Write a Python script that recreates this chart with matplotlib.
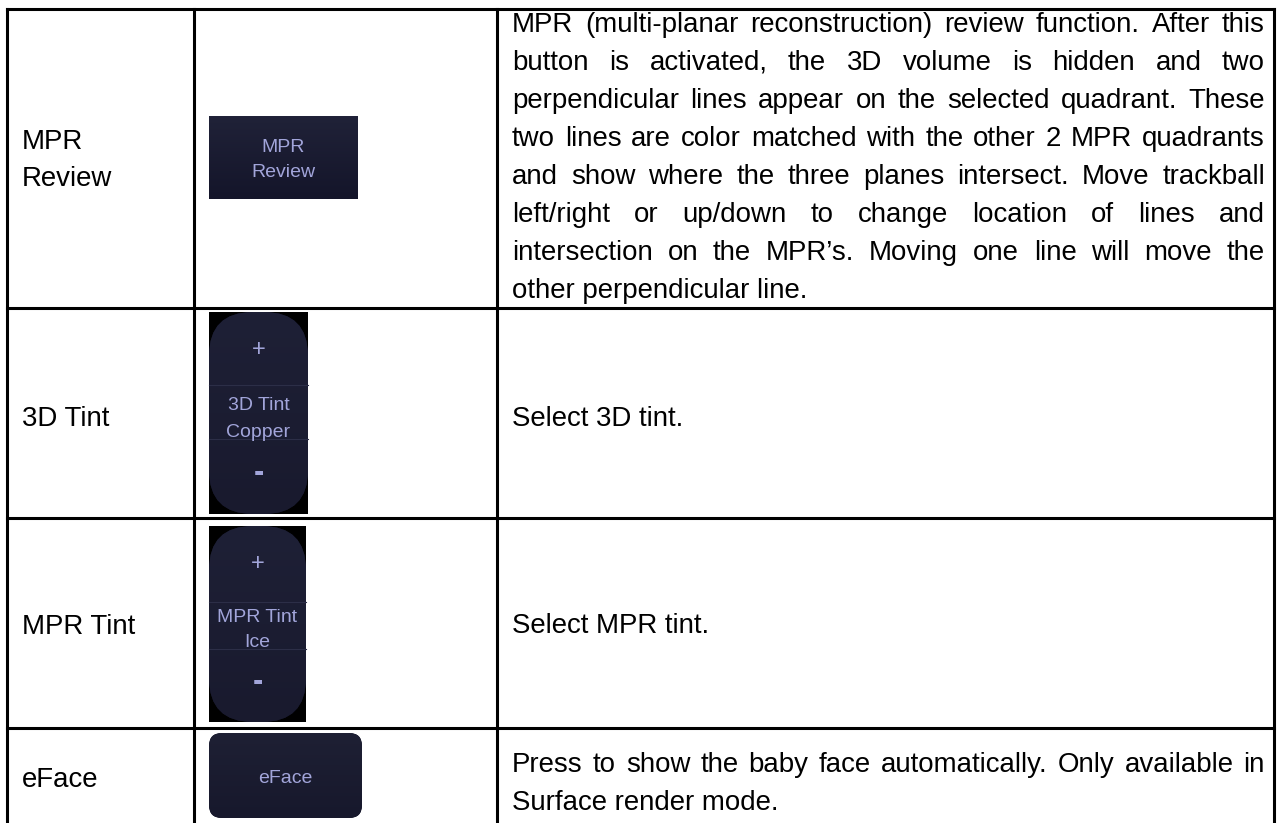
"""
Ultrasound 3D/4D control table: function name | touch button | description.
Rebuilt with plain matplotlib patches and text on a pixel-sized axes.
"""

import numpy as np
import matplotlib
matplotlib.use("Agg")
import matplotlib.pyplot as plt
from matplotlib.patches import FancyBboxPatch, Rectangle

W, H = 1277, 823
FAMILY = ["Liberation Sans", "DejaVu Sans"]

# ── table content ───────────────────────────────────────────────
ROW_LABELS = [["MPR", "Review"], ["3D Tint"], ["MPR Tint"], ["eFace"]]

DESCRIPTIONS = [
    ["MPR (multi-planar reconstruction) review function. After this",
     "button is activated, the 3D volume is hidden and two",
     "perpendicular lines appear on the selected quadrant. These",
     "two lines are color matched with the other 2 MPR quadrants",
     "and show where the three planes intersect. Move trackball",
     "left/right or up/down to change location of lines and",
     "intersection on the MPR\u2019s. Moving one line will move the",
     "other perpendicular line."],
    ["Select 3D tint."],
    ["Select MPR tint."],
    ["Press to show the baby face automatically. Only available in",
     "Surface render mode."],
]

BUTTON_TEXT = [["MPR", "Review"], ["3D Tint", "Copper"], ["MPR Tint", "Ice"], ["eFace"]]
BUTTON_KIND = ["flat", "stepper", "stepper", "rounded"]

# ── layout (pixels, y grows downwards) ─────────────────────────
COL_X = [7, 194, 497, 1274]
ROW_Y = [9, 308, 518, 728]
TABLE_BOTTOM = 823
LABEL_X = 22
DESC_X0, DESC_X1 = 512, 1265
LINE_H = 38
LABEL_CENTER = [158, 416, 624, 777]
DESC_CENTER = [155, 416, 623, 781]

BUTTON_BOX = [(209, 116, 358, 199), (209, 312, 308, 514),
              (209, 526, 306, 722), (209, 733, 362, 818)]
# stepper rows: plus, separator, text 1, text 2, separator, minus
STEPPER_Y = {1: (348, 385, 403, 430, 439, 472),
             2: (562, 602, 615, 640, 649, 681)}

FS = 19.9          # table text, pt (≈27.6 px)
FS_BTN = 14.0      # button text, pt
PX = 100 / 72      # px per pt
CAP = 0.716        # cap height / em

BTN_TOP, BTN_BOT = "#202238", "#14152a"
BTN_TXT = "#a2a5da"
SEP = "#2c2e47"

fig = plt.figure(figsize=(W / 100, H / 100), dpi=100)
ax = fig.add_axes([0, 0, 1, 1])
ax.set_xlim(0, W)
ax.set_ylim(H, 0)
ax.axis("off")
renderer = fig.canvas.get_renderer()


def baseline(cy, size):
    return cy + CAP * size * PX / 2


def put_line(text, x0, x1, base, justify):
    if not justify:
        ax.text(x0, base, text, fontsize=FS, family=FAMILY, va="baseline", ha="left")
        return
    words = text.split()
    objs = [ax.text(0, base, w, fontsize=FS, family=FAMILY, va="baseline", ha="left")
            for w in words]
    widths = [o.get_window_extent(renderer).width for o in objs]
    gap = (x1 - x0 - sum(widths)) / (len(words) - 1)
    x = x0
    for o, w in zip(objs, widths):
        o.set_x(x)
        x += w + gap


def gradient_fill(patch, x0, y0, x1, y1, top, bottom):
    ax.add_patch(patch)
    c0 = np.array(matplotlib.colors.to_rgb(top))
    c1 = np.array(matplotlib.colors.to_rgb(bottom))
    t = np.linspace(0, 1, 64)[:, None]
    img = (c0 * (1 - t) + c1 * t)[:, None, :]
    im = ax.imshow(img, extent=(x0, x1, y1, y0), origin="upper",
                   aspect="auto", zorder=2, interpolation="bilinear")
    im.set_clip_path(patch)


# ── column 1: labels ───────────────────────────────────────────
for lines, cy in zip(ROW_LABELS, LABEL_CENTER):
    first = cy - (len(lines) - 1) * 37 / 2
    for k, s in enumerate(lines):
        ax.text(LABEL_X, baseline(first + k * 37, FS), s, fontsize=FS,
                family=FAMILY, va="baseline", ha="left")

# ── column 3: descriptions (justified) ─────────────────────────
for lines, cy in zip(DESCRIPTIONS, DESC_CENTER):
    first = cy - (len(lines) - 1) * LINE_H / 2
    for k, s in enumerate(lines):
        put_line(s, DESC_X0, DESC_X1, baseline(first + k * LINE_H, FS),
                 justify=k < len(lines) - 1)

# ── column 2: button pictures ──────────────────────────────────
for i, (kind, (x0, y0, x1, y1), txt) in enumerate(zip(BUTTON_KIND, BUTTON_BOX, BUTTON_TEXT)):
    cx = (x0 + x1) / 2
    if kind == "flat":
        p = Rectangle((x0, y0), x1 - x0, y1 - y0, lw=0, fc=BTN_BOT)
        gradient_fill(p, x0, y0, x1, y1, BTN_TOP, BTN_BOT)
        for k, s in enumerate(txt):
            ax.text(cx, baseline((y0 + y1) / 2 - 12.5 + 25 * k, FS_BTN), s,
                    fontsize=FS_BTN, family=FAMILY, color=BTN_TXT,
                    ha="center", va="baseline", zorder=3)
    elif kind == "rounded":
        p = FancyBboxPatch((x0, y0), x1 - x0, y1 - y0,
                           boxstyle="round,pad=0,rounding_size=13", lw=0, fc=BTN_BOT)
        gradient_fill(p, x0, y0, x1, y1, "#1e2034", "#17182c")
        ax.text(cx, baseline((y0 + y1) / 2 + 1, FS_BTN), txt[0], fontsize=FS_BTN,
                family=FAMILY, color=BTN_TXT, ha="center", va="baseline", zorder=3)
    else:
        ax.add_patch(Rectangle((x0, y0), x1 - x0, y1 - y0, lw=0, fc="black", zorder=1))
        p = FancyBboxPatch((x0, y0), x1 - x0, y1 - y0,
                           boxstyle="round,pad=0,rounding_size=44", lw=0, fc=BTN_BOT)
        gradient_fill(p, x0, y0, x1, y1, "#1e2036", "#191a2e")
        yp, s1, t1, t2, s2, ym = STEPPER_Y[i]
        for ys in (s1, s2):
            ax.plot([x0, x1], [ys, ys], color=SEP, lw=0.8, zorder=3)
        ax.text(cx, baseline(yp, 17), "+", fontsize=17, family=FAMILY,
                color=BTN_TXT, ha="center", va="baseline", zorder=3)
        ax.text(cx, ym + 0.29 * 22 * PX, "-", fontsize=22, family=FAMILY,
                fontweight="bold", color=BTN_TXT, ha="center", va="baseline", zorder=3)
        for yt, s in zip((t1, t2), txt):
            ax.text(cx, baseline(yt, FS_BTN), s, fontsize=FS_BTN, family=FAMILY,
                    color=BTN_TXT, ha="center", va="baseline", zorder=3)

# ── grid lines ─────────────────────────────────────────────────
for y in ROW_Y:
    ax.plot([COL_X[0], COL_X[-1]], [y, y], color="black", lw=2.2,
            solid_capstyle="projecting", zorder=4)
for x in COL_X:
    ax.plot([x, x], [ROW_Y[0], TABLE_BOTTOM + 5], color="black", lw=2.2,
            solid_capstyle="projecting", zorder=4)

fig.savefig("out.png", dpi=100, facecolor="white")
plt.close(fig)
